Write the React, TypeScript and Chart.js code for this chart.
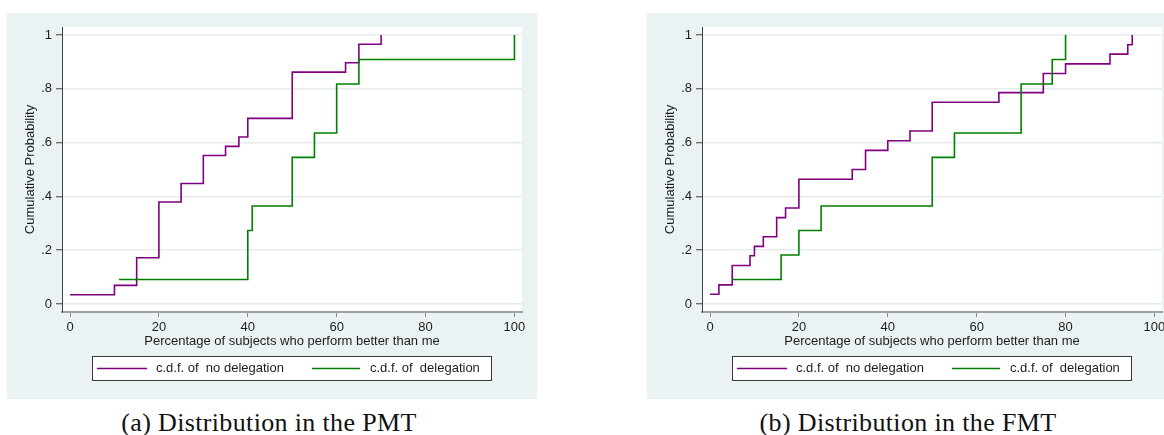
import React, { useEffect, useRef } from "react";
import { Chart, registerables } from "chart.js";

Chart.register(...registerables);

// ---- data ----
const xTickValues = [0, 20, 40, 60, 80, 100];
const xTickLabels = ["0", "20", "40", "60", "80", "100"];
const yTickValues = [0, 0.2, 0.4, 0.6, 0.8, 1];
const yTickLabels = ["0", ".2", ".4", ".6", ".8", "1"];

const seriesLabels = ["c.d.f. of  no delegation", "c.d.f. of  delegation"];
const xTitle = "Percentage of subjects who perform better than me";
const yTitle = "Cumulative Probability";
const captions = ["(a) Distribution in the PMT", "(b) Distribution in the FMT"];

// (a) PMT
const pmtNoDelegationX = [0, 10, 15, 20, 25, 30, 35, 38, 40, 50, 62, 65, 70];
const pmtNoDelegationY = [0.034, 0.069, 0.172, 0.379, 0.448, 0.552, 0.586, 0.621, 0.69, 0.862, 0.897, 0.966, 1];
const pmtDelegationX = [11, 40, 41, 50, 55, 60, 65, 100];
const pmtDelegationY = [0.091, 0.273, 0.364, 0.545, 0.636, 0.818, 0.909, 1];

// (b) FMT
const fmtNoDelegationX = [0, 2, 5, 9, 10, 12, 15, 17, 20, 32, 35, 40, 45, 50, 65, 75, 80, 90, 94, 95];
const fmtNoDelegationY = [0.036, 0.071, 0.143, 0.179, 0.214, 0.25, 0.321, 0.357, 0.464, 0.5, 0.571, 0.607, 0.643, 0.75, 0.786, 0.857, 0.893, 0.929, 0.964, 1];
const fmtDelegationX = [5, 16, 20, 25, 50, 55, 70, 77, 80];
const fmtDelegationY = [0.091, 0.182, 0.273, 0.364, 0.545, 0.636, 0.818, 0.909, 1];

// ---- styles ----
const BG = "#eaf2f3";
const GRID = "#e4ecee";
const PURPLE = "#800080";
const GREEN = "#008000";
const TEXT = "#1e1e1e";
const SANS = "'Liberation Sans', Arial, sans-serif";
const CW = 530;
const CH = 386;

const stataPlugin = {
  id: "stataLook",
  beforeDraw(chart: any) {
    const { ctx, chartArea: a, width, height } = chart;
    ctx.save();
    ctx.fillStyle = BG;
    ctx.fillRect(0, 0, width, height);
    ctx.fillStyle = "#ffffff";
    ctx.fillRect(a.left, a.top, a.right - a.left, a.bottom - a.top);
    ctx.restore();
  },
  afterDraw(chart: any) {
    const ctx = chart.ctx;
    ctx.save();
    // legend box
    ctx.fillStyle = "#ffffff";
    ctx.fillRect(85.5, 343.5, 399, 24);
    ctx.strokeStyle = "#3a3a3a";
    ctx.lineWidth = 1;
    ctx.strokeRect(85.5, 343.5, 399, 24);
    const ly = 355.5;
    ctx.lineWidth = 1.6;
    ctx.strokeStyle = PURPLE;
    ctx.beginPath();
    ctx.moveTo(90, ly);
    ctx.lineTo(140, ly);
    ctx.stroke();
    ctx.strokeStyle = GREEN;
    ctx.beginPath();
    ctx.moveTo(305, ly);
    ctx.lineTo(353, ly);
    ctx.stroke();
    ctx.fillStyle = TEXT;
    ctx.font = `13px ${SANS}`;
    ctx.textBaseline = "middle";
    ctx.textAlign = "left";
    ctx.fillText(seriesLabels[0], 149, ly);
    ctx.fillText(seriesLabels[1], 363, ly);
    ctx.restore();
  },
};

function toPoints(xs: number[], ys: number[]) {
  return xs.map((x, i) => ({ x, y: ys[i] }));
}

function Panel(props: { noDelX: number[]; noDelY: number[]; delX: number[]; delY: number[]; left: number }) {
  const ref = useRef<HTMLCanvasElement>(null);
  useEffect(() => {
    const chart = new Chart(ref.current as HTMLCanvasElement, {
      type: "line",
      data: {
        datasets: [
          {
            label: seriesLabels[0],
            data: toPoints(props.noDelX, props.noDelY),
            borderColor: PURPLE,
            borderWidth: 1.6,
            pointRadius: 0,
            stepped: true,
            order: 1,
          },
          {
            label: seriesLabels[1],
            data: toPoints(props.delX, props.delY),
            borderColor: GREEN,
            borderWidth: 1.6,
            pointRadius: 0,
            stepped: true,
            order: 0,
          },
        ],
      },
      options: {
        animation: false,
        responsive: false,
        devicePixelRatio: 1,
        layout: { padding: { left: 0, top: 14, right: 15, bottom: 0 } },
        plugins: { legend: { display: false }, tooltip: { enabled: false } },
        scales: {
          x: {
            type: "linear",
            min: -1.8,
            max: 101.7,
            afterBuildTicks: (s: any) => {
              s.ticks = xTickValues.map((v) => ({ value: v }));
            },
            afterFit: (s: any) => {
              s.height = 87;
            },
            ticks: {
              autoSkip: false,
              maxRotation: 0,
              padding: 3,
              color: TEXT,
              font: { family: SANS, size: 13 },
              callback: (v: any) => xTickLabels[xTickValues.indexOf(Number(v))] ?? "",
            },
            grid: {
              drawOnChartArea: false,
              drawTicks: true,
              tickLength: 5,
              tickColor: "#8a8a8a",
              tickWidth: 1,
            },
            border: { display: true, color: "#a0a0a0", width: 2 },
            title: {
              display: true,
              text: xTitle,
              color: TEXT,
              font: { family: SANS, size: 13 },
              padding: { top: 0, bottom: 49.7 },
            },
          },
          y: {
            type: "linear",
            min: -0.03,
            max: 1.03,
            afterBuildTicks: (s: any) => {
              s.ticks = yTickValues.map((v) => ({ value: v }));
            },
            afterFit: (s: any) => {
              s.width = 55;
            },
            ticks: {
              autoSkip: false,
              padding: 4,
              color: TEXT,
              font: { family: SANS, size: 13 },
              callback: (v: any) => {
                const i = yTickValues.findIndex((t) => Math.abs(t - Number(v)) < 1e-9);
                return i >= 0 ? yTickLabels[i] : "";
              },
            },
            grid: {
              drawOnChartArea: true,
              color: GRID,
              lineWidth: 1.5,
              drawTicks: true,
              tickLength: 6,
              tickColor: "#404040",
              tickWidth: 1,
            },
            border: { display: true, color: "#404040", width: 1 },
            title: {
              display: true,
              text: yTitle,
              color: TEXT,
              font: { family: SANS, size: 13 },
              padding: { top: 15.2, bottom: 0 },
            },
          },
        },
      },
      plugins: [stataPlugin],
    } as any);
    return () => chart.destroy();
  }, []);
  return (
    <canvas
      ref={ref}
      width={CW}
      height={CH}
      style={{ position: "absolute", left: props.left, top: 13, width: CW, height: CH }}
    />
  );
}

export default function App() {
  const capStyle: React.CSSProperties = {
    position: "absolute",
    top: 408,
    width: 400,
    textAlign: "center",
    fontFamily: "'Liberation Serif', 'Times New Roman', serif",
    fontSize: 26,
    letterSpacing: 0.35,
    lineHeight: "30px",
    color: "#111",
    whiteSpace: "nowrap",
  };
  return (
    <div
      style={{
        position: "absolute",
        left: 0,
        top: 0,
        width: 1164,
        height: 435,
        overflow: "hidden",
        background: "#ffffff",
      }}
    >
      <Panel noDelX={pmtNoDelegationX} noDelY={pmtNoDelegationY} delX={pmtDelegationX} delY={pmtDelegationY} left={7} />
      <Panel noDelX={fmtNoDelegationX} noDelY={fmtNoDelegationY} delX={fmtDelegationX} delY={fmtDelegationY} left={647} />
      <div style={{ ...capStyle, left: 269 - 200 }}>{captions[0]}</div>
      <div style={{ ...capStyle, left: 908 - 200 }}>{captions[1]}</div>
    </div>
  );
}
